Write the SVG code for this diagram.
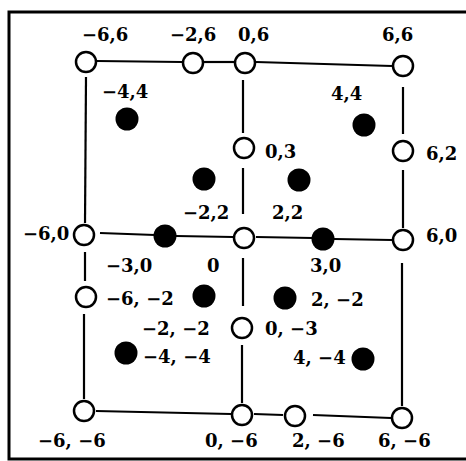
<svg xmlns="http://www.w3.org/2000/svg" width="466" height="461" viewBox="0 0 466 461">
<style>
.o{fill:#fff;stroke:#000;stroke-width:2.5}
.d{fill:#000}
.c line{stroke:#000;stroke-width:2.2}
text{font-family:"DejaVu Serif","Liberation Serif",serif;font-weight:bold;font-size:18px;fill:#000}
</style>
<rect width="466" height="461" fill="#fff"/>
<path d="M466,12 H9 V459 H466" fill="none" stroke="#000" stroke-width="3"/>
<g class="c" id="connectors">
<line x1="97" y1="61" x2="182" y2="62"/>
<line x1="204" y1="62" x2="234" y2="62"/>
<line x1="256" y1="62" x2="392" y2="66"/>
<line x1="86" y1="77" x2="85" y2="223"/>
<line x1="85" y1="252" x2="85" y2="281"/>
<line x1="84" y1="314" x2="84" y2="399"/>
<line x1="96" y1="411" x2="231" y2="414"/>
<line x1="254" y1="414" x2="283" y2="415"/>
<line x1="313" y1="415" x2="391" y2="418"/>
<line x1="403" y1="87" x2="403" y2="134"/>
<line x1="403" y1="170" x2="403" y2="228"/>
<line x1="402" y1="263" x2="402" y2="406"/>
<line x1="243" y1="80" x2="243" y2="133"/>
<line x1="243" y1="168" x2="243" y2="214"/>
<line x1="243" y1="258" x2="243" y2="306"/>
<line x1="242" y1="345" x2="242" y2="403"/>
<line x1="100" y1="233" x2="155" y2="235"/>
<line x1="176" y1="236" x2="233" y2="237"/>
<line x1="256" y1="237" x2="313" y2="238"/>
<line x1="334" y1="239" x2="392" y2="240"/>
</g>
<g id="n-6_6"><circle class="o" cx="86" cy="62" r="10"/><text x="82" y="41">−6,6</text></g>
<g id="n-2_6"><circle class="o" cx="193" cy="63" r="10"/><text x="170" y="41">−2,6</text></g>
<g id="n0_6"><circle class="o" cx="245" cy="63" r="10"/><text x="238" y="41">0,6</text></g>
<g id="n6_6"><circle class="o" cx="403" cy="66" r="10"/><text x="382" y="41">6,6</text></g>
<g id="n0_3"><circle class="o" cx="244" cy="148" r="10"/><text x="265" y="158">0,3</text></g>
<g id="n6_2"><circle class="o" cx="403" cy="151" r="10"/><text x="426" y="160">6,2</text></g>
<g id="n-6_0"><circle class="o" cx="84" cy="235" r="10"/><text x="23" y="240">−6,0</text></g>
<g id="n0_0"><circle class="o" cx="244" cy="238" r="10"/><text x="207" y="272">0</text></g>
<g id="n6_0"><circle class="o" cx="403" cy="240" r="10"/><text x="426" y="242">6,0</text></g>
<g id="n-6_-2"><circle class="o" cx="86" cy="297" r="10"/><text x="106" y="305">−6, −2</text></g>
<g id="n0_-3"><circle class="o" cx="242" cy="328" r="10"/><text x="265" y="335">0, −3</text></g>
<g id="n-6_-6"><circle class="o" cx="84" cy="411" r="10"/><text x="38" y="447">−6, −6</text></g>
<g id="n0_-6"><circle class="o" cx="242" cy="415" r="10"/><text x="205" y="447">0, −6</text></g>
<g id="n2_-6"><circle class="o" cx="295" cy="416" r="10"/><text x="292" y="447">2, −6</text></g>
<g id="n6_-6"><circle class="o" cx="402" cy="418" r="10"/><text x="378" y="447">6, −6</text></g>
<g id="p-4_4"><circle class="d" cx="127" cy="119" r="11.5"/><text x="102" y="98">−4,4</text></g>
<g id="p4_4"><circle class="d" cx="364" cy="125" r="11.5"/><text x="331" y="100">4,4</text></g>
<g id="p-2_2"><circle class="d" cx="204" cy="179" r="11.5"/><text x="183" y="219">−2,2</text></g>
<g id="p2_2"><circle class="d" cx="299" cy="180" r="11.5"/><text x="272" y="219">2,2</text></g>
<g id="p-3_0"><circle class="d" cx="165" cy="236" r="11.5"/><text x="106" y="272">−3,0</text></g>
<g id="p3_0"><circle class="d" cx="323" cy="239" r="11.5"/><text x="310" y="272">3,0</text></g>
<g id="p-2_-2"><circle class="d" cx="204" cy="296" r="11.5"/><text x="142" y="335">−2, −2</text></g>
<g id="p2_-2"><circle class="d" cx="285" cy="298" r="11.5"/><text x="311" y="306">2, −2</text></g>
<g id="p-4_-4"><circle class="d" cx="126" cy="353" r="11.5"/><text x="143" y="363">−4, −4</text></g>
<g id="p4_-4"><circle class="d" cx="363" cy="359" r="11.5"/><text x="293" y="364">4, −4</text></g>
</svg>
